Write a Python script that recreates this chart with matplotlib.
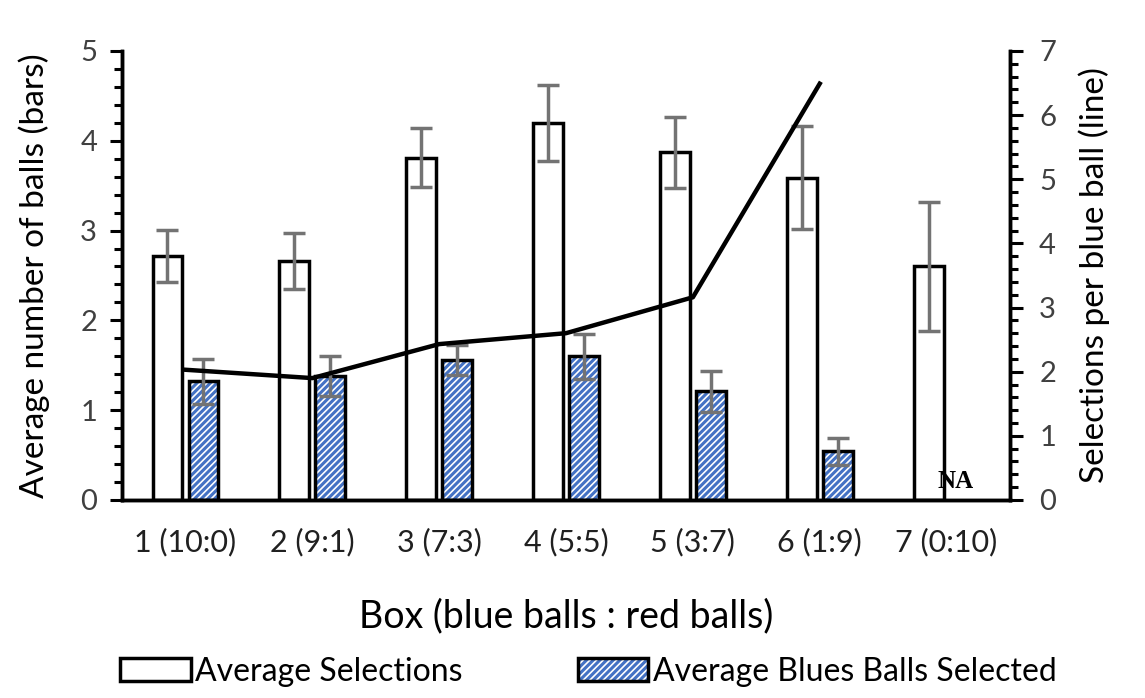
import matplotlib.pyplot as plt
from matplotlib.patches import Patch
from matplotlib.ticker import MultipleLocator
import numpy as np

# data
boxes = ["1 (10:0)", "2 (9:1)", "3 (7:3)", "4 (5:5)", "5 (3:7)", "6 (1:9)", "7 (0:10)"]
avg_selections = [2.72, 2.66, 3.81, 4.20, 3.87, 3.59, 2.60]
avg_selections_err = [0.29, 0.31, 0.33, 0.42, 0.40, 0.57, 0.72]
avg_blues = [1.32, 1.38, 1.56, 1.60, 1.21, 0.54]
avg_blues_err = [0.25, 0.22, 0.17, 0.25, 0.23, 0.15]
sel_per_blue = [2.03, 1.90, 2.43, 2.60, 3.16, 6.49]

BLUE = '#4472C4'
GREY = '#737373'
plt.rcParams['font.family'] = ['Lato', 'DejaVu Sans']
plt.rcParams['hatch.linewidth'] = 2.2
plt.rcParams['hatch.color'] = BLUE

fig = plt.figure(figsize=(11.45, 6.98), dpi=100)
ax = fig.add_axes([0.1066, 0.2837, 0.7755, 0.6433])
ax2 = ax.twinx()

x = np.arange(len(boxes))
w = 0.236
off = 0.142

ax.bar(x - off, avg_selections, w, facecolor='white', edgecolor='black', linewidth=2.5, zorder=2)
ax.errorbar(x - off, avg_selections, yerr=avg_selections_err, fmt='none', ecolor=GREY,
            elinewidth=2.5, capsize=8, capthick=2.5, zorder=3)

xb = x[:len(avg_blues)] + off
ax.bar(xb, avg_blues, w, facecolor='white', edgecolor=BLUE, hatch='/////', linewidth=0, zorder=2)
ax.bar(xb, avg_blues, w, fill=False, edgecolor='black', linewidth=2.5, zorder=2)
ax.errorbar(xb, avg_blues, yerr=avg_blues_err, fmt='none', ecolor=GREY,
            elinewidth=2.5, capsize=8, capthick=2.5, zorder=3)

ax2.plot(x[:len(sel_per_blue)], sel_per_blue, color='black', linewidth=3.2, zorder=4)

ax.set_xlim(-0.5, len(boxes) - 0.5)
ax.set_ylim(0, 5)
ax2.set_ylim(0, 7)
ax.set_xticks(x)
ax.set_xticklabels(boxes, fontsize=22, color='#202020')
ax.tick_params(axis='x', length=0, pad=20)

for a in (ax, ax2):
    a.yaxis.set_major_locator(MultipleLocator(1))
    a.yaxis.set_minor_locator(MultipleLocator(0.2))
    a.tick_params(axis='y', which='major', length=9, width=2.2, labelsize=21, colors='black')
    a.tick_params(axis='y', which='minor', length=6, width=2.2)
    a.spines['top'].set_visible(False)
    for s in ('left', 'right', 'bottom'):
        a.spines[s].set_linewidth(2.5)
ax.tick_params(axis='y', which='major', pad=9)
ax2.tick_params(axis='y', which='major', pad=12)
for lab in ax.get_yticklabels() + ax2.get_yticklabels():
    lab.set_color('#404040')

ax.set_ylabel("Average number of balls (bars)", fontsize=24, labelpad=22)
ax2.set_ylabel("Selections per blue ball (line)", fontsize=24, labelpad=16)
ax.set_xlabel("Box (blue balls : red balls)", fontsize=27, labelpad=30)

ax.text(x[-1] + 0.07, 0.08, "NA", fontsize=18, fontweight='bold',
        family='Liberation Serif', ha='center', va='bottom')

h1 = Patch(facecolor='white', edgecolor='black', linewidth=2.5)
h2 = (Patch(facecolor='white', edgecolor=BLUE, hatch='/////', linewidth=0),
      Patch(fill=False, edgecolor='black', linewidth=2.5))
fig.legend([h1, h2], ["Average Selections", "Average Blues Balls Selected"],
           loc='lower center', bbox_to_anchor=(0.514, -0.025), ncol=2, frameon=False,
           fontsize=23, handlelength=2.2, handleheight=0.7, handletextpad=0.15,
           columnspacing=3.6)

fig.savefig("out.png", dpi=100)
